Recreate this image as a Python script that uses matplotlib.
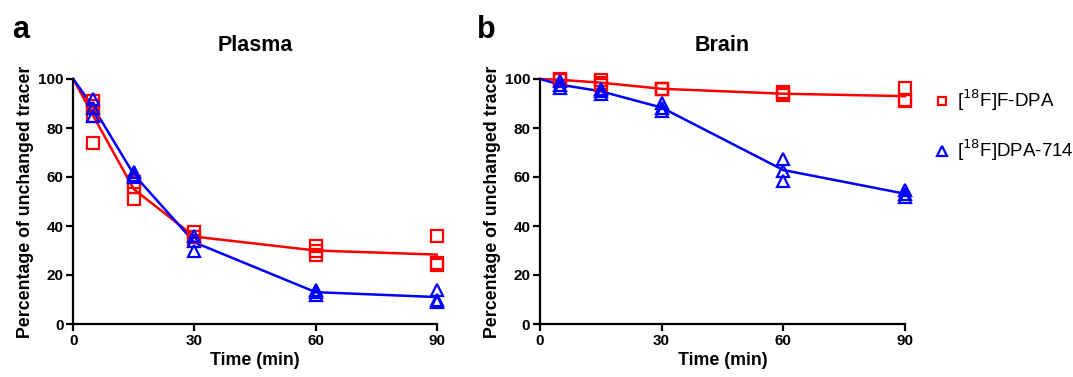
import matplotlib
matplotlib.use("Agg")
import matplotlib.pyplot as plt
import numpy as np

plt.rcParams['font.family'] = ['Liberation Sans', 'DejaVu Sans']

times = [5, 15, 30, 60, 90]

# Plasma replicate values (% unchanged tracer)
plasma_fdpa = [[91, 89, 85, 74], [58, 56, 51], [37.5, 35.5, 34], [32, 30, 28], [36, 25, 24]]
plasma_dpa714 = [[92, 88, 85], [62, 61, 60], [36, 34, 30], [14, 13, 12], [14, 10, 9]]

# Brain replicate values
brain_fdpa = [[100, 99.5, 99.5], [99.5, 98.5, 97.5], [96, 96, 96], [94.5, 93.5, 94], [96.5, 91.5, 91]]
brain_dpa714 = [[99, 97.5, 96.5], [96, 95, 94], [90, 88, 87], [67.5, 62.5, 58.5], [54.5, 53, 52]]

series_labels = ['[$^{18}$F]F-DPA', '[$^{18}$F]DPA-714']
colors = ['#ff0000', '#0000ff']
markers = ['s', '^']

fig = plt.figure(figsize=(10.73, 3.77), dpi=100)
W, H = 1073, 377
ax1 = fig.add_axes([73.3 / W, 1 - 324 / H, 363.4 / W, 245 / H])
ax2 = fig.add_axes([540 / W, 1 - 324 / H, 365 / W, 245 / H])


def draw(ax, data_sets, title):
    for data, c, m, lab in zip(data_sets, colors, markers, series_labels):
        xs, ys = [], []
        for t, vals in zip(times, data):
            xs += [t] * len(vals)
            ys += vals
        ax.plot(xs, ys, linestyle='none', marker=m, markersize=8 if m == 's' else 8.5,
                markerfacecolor='none', markeredgecolor=c, markeredgewidth=1.6,
                clip_on=False, label=lab, zorder=3)
        means = [100] + [float(np.mean(v)) for v in data]
        ax.plot([0] + times, means, color=c, linewidth=1.8, clip_on=False, zorder=2)
    ax.set_xlim(0, 90)
    ax.set_ylim(0, 100)
    ax.set_xticks([0, 30, 60, 90])
    ax.set_yticks([0, 20, 40, 60, 80, 100])
    for s in ['top', 'right']:
        ax.spines[s].set_visible(False)
    for s in ['left', 'bottom']:
        ax.spines[s].set_linewidth(1.6)
    ax.tick_params(direction='out', length=5, width=1.6, labelsize=11, pad=2)
    for lbl in ax.get_xticklabels() + ax.get_yticklabels():
        lbl.set_fontweight('bold')
    ax.set_xlabel('Time (min)', fontsize=12.8, fontweight='bold', labelpad=3)
    ax.set_ylabel('Percentage of unchanged tracer', fontsize=12.8, fontweight='bold', labelpad=3)
    ax.set_title(title, fontsize=15.5, fontweight='bold', pad=20)


draw(ax1, [plasma_fdpa, plasma_dpa714], 'Plasma')
draw(ax2, [brain_fdpa, brain_dpa714], 'Brain')

fig.text(12 / W, 1 - 38 / H, 'a', fontsize=22, fontweight='bold')
fig.text(477 / W, 1 - 38 / H, 'b', fontsize=22, fontweight='bold')

handles, labels = ax2.get_legend_handles_labels()
leg = fig.legend(handles, labels, loc='upper left', bbox_to_anchor=(916 / W, 1 - 71 / H),
                 frameon=False, fontsize=13.5, labelspacing=1.3, handletextpad=0.3,
                 handlelength=1.0, markerscale=0.8)

fig.savefig('out.png', dpi=100)
